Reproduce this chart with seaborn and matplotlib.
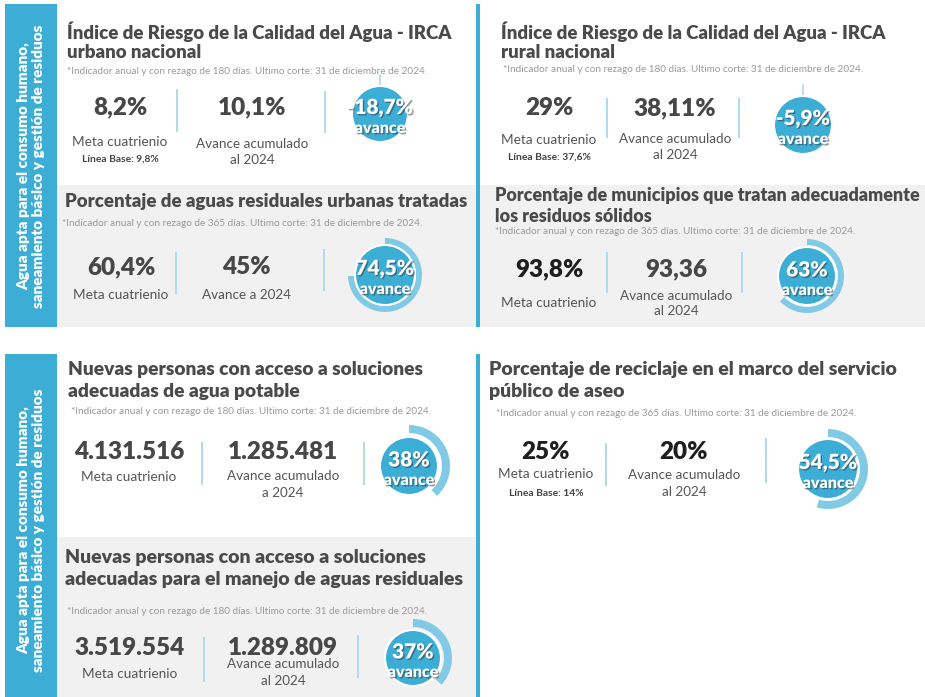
import matplotlib
matplotlib.use("Agg")
import matplotlib.pyplot as plt
import matplotlib.patheffects as pe
from matplotlib.patches import Rectangle, Circle
import seaborn as sns

# Indicator data
titles = [
    "Índice de Riesgo de la Calidad del Agua - IRCA\nurbano nacional",
    "Porcentaje de aguas residuales urbanas tratadas",
    "Índice de Riesgo de la Calidad del Agua - IRCA\nrural nacional",
    "Porcentaje de municipios que tratan adecuadamente\nlos residuos sólidos",
    "Nuevas personas con acceso a soluciones\nadecuadas de agua potable",
    "Nuevas personas con acceso a soluciones\nadecuadas para el manejo de aguas residuales",
    "Porcentaje de reciclaje en el marco del servicio\npúblico de aseo",
]
rezago_dias = [180, 365, 180, 365, 180, 180, 365]
meta_values = ["8,2%", "60,4%", "29%", "93,8%", "4.131.516", "3.519.554", "25%"]
avance_values = ["10,1%", "45%", "38,11%", "93,36", "1.285.481", "1.289.809", "20%"]
avance_labels = [
    "Avance acumulado\nal 2024",
    "Avance a 2024",
    "Avance acumulado\nal 2024",
    "Avance acumulado\nal 2024",
    "Avance acumulado\na 2024",
    "Avance acumulado\nal 2024",
    "Avance acumulado\nal 2024",
]
linea_base = ["9,8%", None, "37,6%", None, None, None, "14%"]
avance_pct = [-18.7, 74.5, -5.9, 63, 38, 37, 54.5]
sidebar_label = "Agua apta para el consumo humano,\nsaneamiento básico y gestión de residuos"

# Layout in pixels (925 x 697 canvas)
W, H = 925, 697
layout = [
    dict(box=(57, 4, 476, 185), bg="white", tx=67, ty=[32, 52], ts=13.4, nx=67, ny=71,
         vy=107, mx=120, ax=252, ly=142, by=159, aly=[144, 160],
         s1=(177, 89, 132), s2=(325, 91, 133), ring=(380, 114, 28, 31, 38), vc=["#474747", "#474747"]),
    dict(box=(57, 185, 476, 327), bg="#f1f1f1", tx=65, ty=[201], ts=13.4, nx=62, ny=224,
         vy=267, mx=121, ax=246, ly=295, by=None, aly=[295],
         s1=(176, 252, 294), s2=(324, 249, 291), ring=(385, 275, 30, 31, 37), vc=["#474747", "#474747"]),
    dict(box=(480, 4, 925, 185), bg="white", tx=501, ty=[32, 52], ts=13.4, nx=503, ny=69,
         vy=108, mx=549, ax=675, ly=140, by=157, aly=[139, 155],
         s1=(607, 98, 138), s2=(739, 98, 138), ring=(803, 125, 29, 31, 38), vc=["#474747", "#474747"]),
    dict(box=(480, 185, 925, 327), bg="#f1f1f1", tx=495, ty=[195, 216], ts=12.9, nx=495, ny=231,
         vy=269, mx=549, ax=676, ly=303, by=None, aly=[296, 311],
         s1=(607, 252, 293), s2=(742, 252, 293), ring=(807, 276, 29, 31, 37), vc=["#1e1e1e", "#474747"]),
    dict(box=(57, 354, 476, 537), bg="white", tx=68, ty=[369, 392], ts=13.8, nx=71, ny=412,
         vy=452, mx=129, ax=283, ly=477, by=None, aly=[476, 493],
         s1=(202, 442, 485), s2=(364, 442, 485), ring=(409, 466, 29, 33, 41), vc=["#474747", "#474747"]),
    dict(box=(57, 537, 476, 697), bg="#f1f1f1", tx=65, ty=[557, 579], ts=14.0, nx=67, ny=611,
         vy=648, mx=130, ax=283, ly=674, by=None, aly=[664, 681],
         s1=(204, 637, 682), s2=(358, 635, 678), ring=(413, 658, 28, 31, 39), vc=["#474747", "#474747"]),
    dict(box=(480, 354, 925, 697), bg="white", tx=489, ty=[370, 392], ts=14.0, nx=496, ny=413,
         vy=452, mx=546, ax=684, ly=474, by=493, aly=[475, 492],
         s1=(606, 443, 486), s2=(766, 438, 483), ring=(828, 469, 30, 32, 40), vc=["#1e1e1e", "#1e1e1e"]),
]

BLUE = "#3caed6"
RING = "#80cae5"
SEP = "#a9d9ee"
TITLE_C = "#4a4a4a"
LABEL_C = "#555555"
NOTE_C = "#9a9a9a"

sns.set_theme(style="white")
plt.rcParams["font.family"] = ["Lato", "DejaVu Sans"]

fig = plt.figure(figsize=(W / 100, H / 100), dpi=100)
ax = fig.add_axes([0, 0, 1, 1])
ax.set_xlim(0, W)
ax.set_ylim(H, 0)
ax.axis("off")

# side bars and blue divider lines
for y0, y1, yc in [(4, 327, 166), (354, 697, 530)]:
    ax.add_patch(Rectangle((5, y0), 52, y1 - y0, color=BLUE, lw=0))
    ax.add_patch(Rectangle((476, y0), 4, y1 - y0, color=BLUE, lw=0, zorder=5))
    ax.text(31, yc, sidebar_label, rotation=90, ha="center", va="center",
            multialignment="center", color="white", fontsize=11,
            fontweight="heavy", linespacing=1.2)


def draw_ring(cx, cy, pct, r_disk, r_in, r_out):
    half = 50
    rax = fig.add_axes([(cx - half) / W, 1 - (cy + half) / H, 2 * half / W, 2 * half / H])
    if pct > 0:
        rax.pie([pct, 100 - pct], radius=r_out, colors=[RING, "none"], startangle=90,
                counterclock=False, wedgeprops=dict(width=r_out - r_in, linewidth=0))
    else:
        rax.plot([0, 0], [r_disk, r_disk + 11], color=SEP, lw=1.2)
    rax.add_patch(Circle((0, 0), r_disk, fc=BLUE, ec="white", lw=1.5, zorder=3))
    rax.set_xlim(-half, half)
    rax.set_ylim(-half, half)
    rax.set_aspect("equal")
    rax.axis("off")
    shadow = [pe.withSimplePatchShadow(offset=(1, -1), shadow_rgbFace="#333333", alpha=0.5)]
    label = f"{pct:g}".replace(".", ",") + "%"
    rax.text(0, 6, label, ha="center", va="center", color="white", fontsize=15,
             fontweight="heavy", zorder=4, path_effects=shadow)
    rax.text(0, -14, "avance", ha="center", va="center", color="white", fontsize=11.5,
             fontweight="heavy", zorder=4, path_effects=shadow)


for i, lay in enumerate(layout):
    x0, y0, x1, y1 = lay["box"]
    ax.add_patch(Rectangle((x0, y0), x1 - x0, y1 - y0, color=lay["bg"], lw=0))
    for line, ty in zip(titles[i].split("\n"), lay["ty"]):
        ax.text(lay["tx"], ty, line, ha="left", va="center", color=TITLE_C,
                fontsize=lay["ts"], fontweight="heavy")
    note = (f"*Indicador anual y con rezago de {rezago_dias[i]} días. "
            "Ultimo corte: 31 de diciembre de 2024.")
    ax.text(lay["nx"], lay["ny"], note, ha="left", va="center", color=NOTE_C, fontsize=7.2)

    ax.text(lay["mx"], lay["vy"], meta_values[i], ha="center", va="center",
            color=lay["vc"][0], fontsize=17.5, fontweight="heavy")
    ax.text(lay["ax"], lay["vy"], avance_values[i], ha="center", va="center",
            color=lay["vc"][1], fontsize=17.5, fontweight="heavy")
    ax.text(lay["mx"], lay["ly"], "Meta cuatrienio", ha="center", va="center",
            color=LABEL_C, fontsize=9.8)
    if linea_base[i]:
        ax.text(lay["mx"], lay["by"], f"Línea Base: {linea_base[i]}", ha="center",
                va="center", color="#444444", fontsize=7.4, fontweight="bold")
    for line, ly in zip(avance_labels[i].split("\n"), lay["aly"]):
        ax.text(lay["ax"], ly, line, ha="center", va="center", color=LABEL_C, fontsize=9.7)

    for sx, sy0, sy1 in (lay["s1"], lay["s2"]):
        ax.vlines(sx, sy0, sy1, color=SEP, lw=1.3)

    cx, cy, r_disk, r_in, r_out = lay["ring"]
    draw_ring(cx, cy, avance_pct[i], r_disk, r_in, r_out)

fig.savefig("out.png", dpi=100)
